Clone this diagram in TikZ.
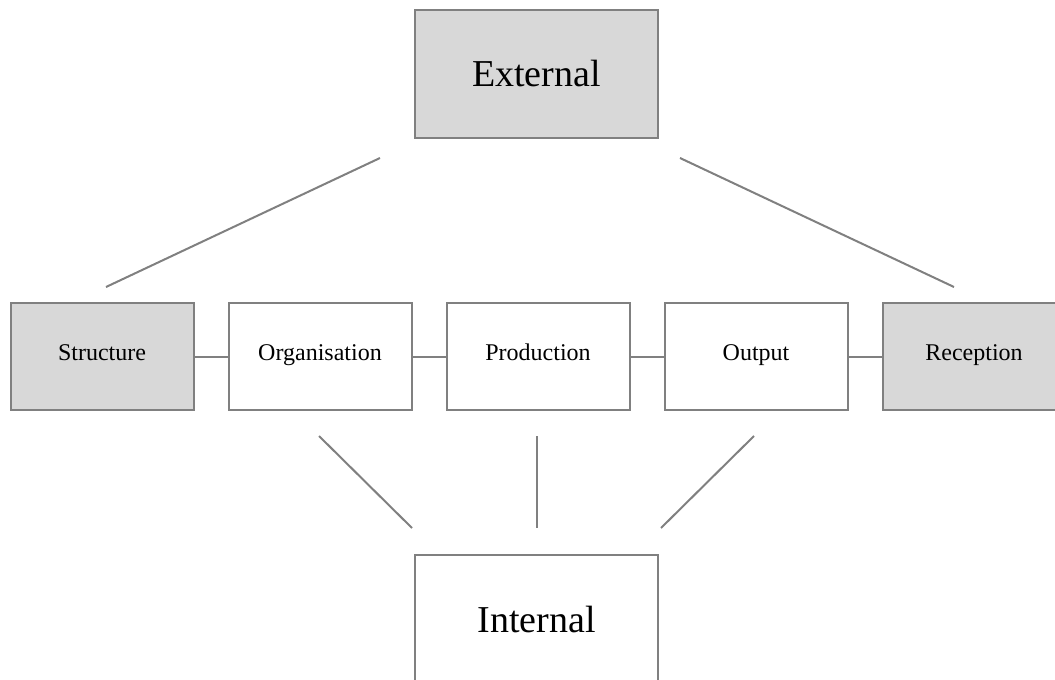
\documentclass[tikz,border=0pt]{standalone}
\usepackage{fontspec}
\setmainfont{Liberation Serif}
\usetikzlibrary{positioning}

\definecolor{boxgrey}{RGB}{216,216,216}
\definecolor{linegrey}{RGB}{128,128,128}

\tikzset{
  stage/.style={draw=linegrey, line width=2pt, minimum width=183pt, minimum height=107pt,
    inner sep=0pt, text height=0.7em, text depth=0pt, font=\fontsize{24}{28}\selectfont},
  level/.style={draw=linegrey, line width=2pt, minimum width=243pt, minimum height=128pt,
    inner sep=0pt, font=\fontsize{38}{44}\selectfont},
  shaded/.style={fill=boxgrey},
  link/.style={draw=linegrey, line width=2pt}
}

\begin{document}
\begin{tikzpicture}[x=1pt, y=-1pt, node distance=33pt]

\useasboundingbox (0,0) rectangle (1055,680);
\clip (0,0) rectangle (1055,680);

% Top and bottom levels
\node[level, shaded] (ext) at (536.5,74) {External};
\node[level] (int) at (536.5,619) {Internal};

% Row of stages
\node[stage, shaded] (struct) at (102,356.5) {Structure};
\node[stage, right=of struct] (org) {Organisation};
\node[stage, right=of org] (prod) {Production};
\node[stage, right=of prod] (outp) {Output};
\node[stage, shaded, right=of outp] (recep) {Reception};

\foreach \a/\b in {struct/org, org/prod, prod/outp, outp/recep} {
  \draw[link] (\a) -- (\b);
}

% Free ends of the level lines
\coordinate (extL) at (380,158);
\coordinate (extR) at (680,158);
\coordinate (structT) at (106,287);
\coordinate (recepT) at (954,287);

\coordinate (orgB) at (319,436);
\coordinate (prodB) at (537,436);
\coordinate (outpB) at (754,436);
\coordinate (intL) at (412,528);
\coordinate (intM) at (537,528);
\coordinate (intR) at (661,528);

\draw[link] (extL) -- (structT);
\draw[link] (extR) -- (recepT);

\draw[link] (orgB) -- (intL);
\draw[link] (prodB) -- (intM);
\draw[link] (outpB) -- (intR);

\end{tikzpicture}
\end{document}
